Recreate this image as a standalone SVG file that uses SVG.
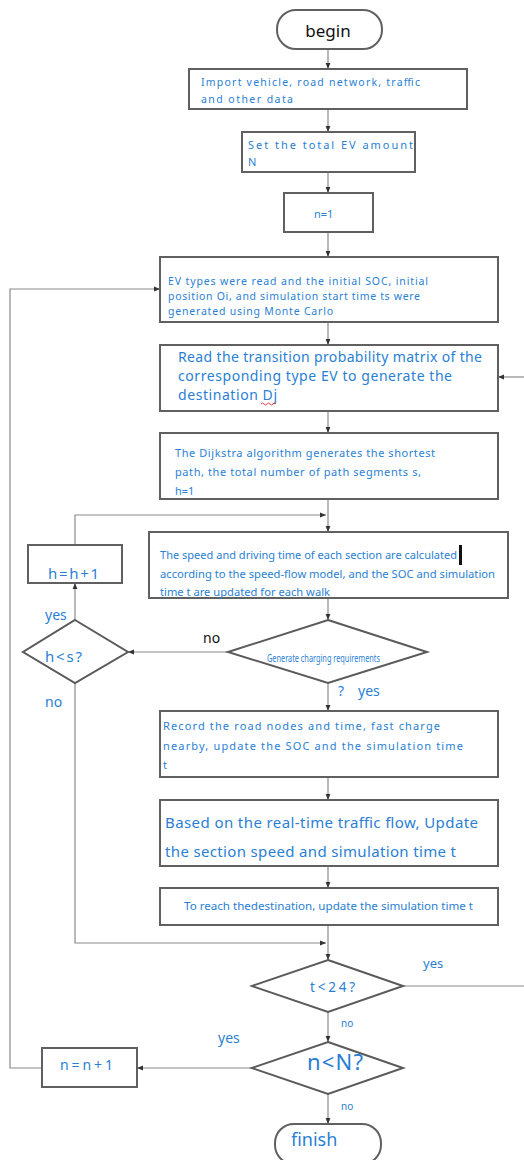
<svg xmlns="http://www.w3.org/2000/svg" width="524" height="1160" viewBox="0 0 524 1160">
<style>
.box{fill:#fff;stroke:#606060;stroke-width:2}
.dia{fill:#fff;stroke:#5a5a5a;stroke-width:2}
.ln{fill:none;stroke:#8a8a8a;stroke-width:1.2}
.t{font-family:"Noto Sans","Open Sans",sans-serif;fill:#2a7fd4}
.k{font-family:"Noto Sans","Open Sans",sans-serif;fill:#111}
</style>
<defs>
<marker id="ar" viewBox="0 0 8 8" refX="8" refY="4" markerWidth="6" markerHeight="6" orient="auto" markerUnits="userSpaceOnUse">
<path d="M0,0.8 L8,4 L0,7.2 Z" fill="#333"/>
</marker>
</defs>
<rect width="524" height="1160" fill="#fff"/>

<g id="connectors">
<path class="ln" d="M328,49 V69" marker-end="url(#ar)"/>
<path class="ln" d="M328,109 V132" marker-end="url(#ar)"/>
<path class="ln" d="M328,172 V193" marker-end="url(#ar)"/>
<path class="ln" d="M328,232 V257" marker-end="url(#ar)"/>
<path class="ln" d="M328,322 V345" marker-end="url(#ar)"/>
<path class="ln" d="M328,411 V433" marker-end="url(#ar)"/>
<path class="ln" d="M328,499 V532" marker-end="url(#ar)"/>
<path class="ln" d="M328,598 V620" marker-end="url(#ar)"/>
<path class="ln" d="M228,652 H128" marker-end="url(#ar)"/>
<path class="ln" d="M328,683 V711" marker-end="url(#ar)"/>
<path class="ln" d="M328,777 V800" marker-end="url(#ar)"/>
<path class="ln" d="M328,866 V888" marker-end="url(#ar)"/>
<path class="ln" d="M328,925 V960" marker-end="url(#ar)"/>
<path class="ln" d="M328,1012 V1042" marker-end="url(#ar)"/>
<path class="ln" d="M252,1068 H137" marker-end="url(#ar)"/>
<path class="ln" d="M328,1094 V1124" marker-end="url(#ar)"/>
<path class="ln" d="M75,620 V583" marker-end="url(#ar)"/>
<path class="ln" d="M75,545 V515 H326" marker-end="url(#ar)"/>
<path class="ln" d="M75,683 V943 H326" marker-end="url(#ar)"/>
<path class="ln" d="M42,1068 H10 V289 H160" marker-end="url(#ar)"/>
<path class="ln" d="M403,986 H524"/>
<path class="ln" d="M524,377 H498" marker-end="url(#ar)"/>
</g>

<g id="begin">
<rect x="277" y="10" width="105" height="39" rx="19" class="box"/>
<text class="k" x="328" y="37" font-size="17" text-anchor="middle">begin</text>
</g>
<g id="import">
<rect x="189" y="69" width="278" height="40" class="box"/>
<text class="t" x="201" y="86" font-size="10.5" textLength="219">Import vehicle, road network, traffic</text>
<text class="t" x="201" y="103" font-size="10.5" textLength="92">and other data</text>
</g>
<g id="settotal">
<rect x="242" y="132" width="173" height="40" class="box"/>
<text class="t" x="248" y="149" font-size="11" textLength="165">Set the total EV amount</text>
<text class="t" x="248" y="166" font-size="11">N</text>
</g>
<g id="n1">
<rect x="284" y="193" width="89" height="39" class="box"/>
<text class="t" x="314" y="218" font-size="11">n=1</text>
</g>
<g id="evtypes">
<rect x="160" y="257" width="338" height="65" class="box"/>
<text class="t" x="168" y="285" font-size="10.5" textLength="260">EV types were read and the initial SOC, initial</text>
<text class="t" x="168" y="300" font-size="10.5" textLength="252">position Oi, and simulation start time ts were</text>
<text class="t" x="168" y="315" font-size="10.5" textLength="165">generated using Monte Carlo</text>
</g>
<g id="readmatrix">
<rect x="160" y="345" width="338" height="66" class="box"/>
<text class="t" x="178" y="362" font-size="14" textLength="304">Read the transition probability matrix of the</text>
<text class="t" x="178" y="381" font-size="14" textLength="274">corresponding type EV to generate the</text>
<text class="t" x="178" y="400" font-size="14" textLength="99">destination Dj</text>
<path d="M261,404 q1.5,-2 3,0 t3,0 t3,0 t3,0 t3,0" fill="none" stroke="#e03030" stroke-width="0.9"/>
</g>
<g id="dijkstra">
<rect x="160" y="433" width="338" height="66" class="box"/>
<text class="t" x="175" y="457" font-size="11" textLength="260">The Dijkstra algorithm generates the shortest</text>
<text class="t" x="175" y="476" font-size="11" textLength="246">path, the total number of path segments s,</text>
<text class="t" x="175" y="495" font-size="11">h=1</text>
</g>
<g id="speed">
<rect x="149" y="532" width="359" height="66" class="box"/>
<text class="t" x="160" y="559" font-size="11" textLength="297" lengthAdjust="spacingAndGlyphs">The speed and driving time of each section are calculated</text>
<rect x="459" y="545" width="3" height="20" fill="#111"/>
<text class="t" x="160" y="578" font-size="11" textLength="335" lengthAdjust="spacingAndGlyphs">according to the speed-flow model, and the SOC and simulation</text>
<text class="t" x="160" y="596" font-size="11" textLength="170" lengthAdjust="spacingAndGlyphs">time t are updated for each walk</text>
</g>
<g id="hinc">
<rect x="28" y="545" width="94" height="38" class="box"/>
<text class="t" x="48" y="579" font-size="15" textLength="51">h=h+1</text>
</g>
<g id="hless">
<polygon points="75,620 128,652 75,683 23,652" class="dia"/>
<text class="t" x="45" y="662" font-size="15" textLength="37">h&lt;s?</text>
</g>
<g id="generate">
<polygon points="328,620 427,652 328,683 228,652" class="dia"/>
<text class="t" x="267" y="662" font-size="10" textLength="113" lengthAdjust="spacingAndGlyphs">Generate charging requirements</text>
</g>
<g id="labels1">
<text class="k" x="203" y="643" font-size="14">no</text>
<text class="t" x="45" y="620" font-size="14">yes</text>
<text class="t" x="45" y="707" font-size="14">no</text>
<text class="t" x="338" y="696" font-size="14">?</text>
<text class="t" x="358" y="696" font-size="14">yes</text>
</g>
<g id="record">
<rect x="160" y="711" width="338" height="66" class="box"/>
<text class="t" x="163" y="730" font-size="11" textLength="277">Record the road nodes and time, fast charge</text>
<text class="t" x="163" y="750" font-size="11" textLength="300">nearby, update the SOC and the simulation time</text>
<text class="t" x="163" y="769" font-size="11">t</text>
</g>
<g id="based">
<rect x="160" y="800" width="338" height="66" class="box"/>
<text class="t" x="165" y="828" font-size="15" textLength="313">Based on the real-time traffic flow, Update</text>
<text class="t" x="165" y="857" font-size="15" textLength="291">the section speed and simulation time t</text>
</g>
<g id="reach">
<rect x="160" y="888" width="338" height="37" class="box"/>
<text class="t" x="184" y="910" font-size="11" textLength="289" lengthAdjust="spacingAndGlyphs">To reach thedestination, update the simulation time t</text>
</g>
<g id="tless">
<polygon points="328,960 403,986 328,1012 252,986" class="dia"/>
<text class="t" x="310" y="992" font-size="13.5" textLength="45">t&lt;24?</text>
</g>
<g id="nless">
<polygon points="328,1042 403,1068 328,1094 252,1068" class="dia"/>
<text class="t" x="307" y="1070" font-size="22" textLength="56">n&lt;N?</text>
</g>
<g id="ninc">
<rect x="42" y="1048" width="95" height="39" class="box"/>
<text class="t" x="60" y="1070" font-size="14" textLength="53">n=n+1</text>
</g>
<g id="finish">
<rect x="275" y="1124" width="106" height="40" rx="19" class="box"/>
<text class="t" x="291" y="1146" font-size="18">finish</text>
</g>
<g id="labels2">
<text class="t" x="423" y="968" font-size="13">yes</text>
<text class="t" x="341" y="1027" font-size="10">no</text>
<text class="t" x="218" y="1043" font-size="14">yes</text>
<text class="t" x="341" y="1110" font-size="10">no</text>
</g>
</svg>
